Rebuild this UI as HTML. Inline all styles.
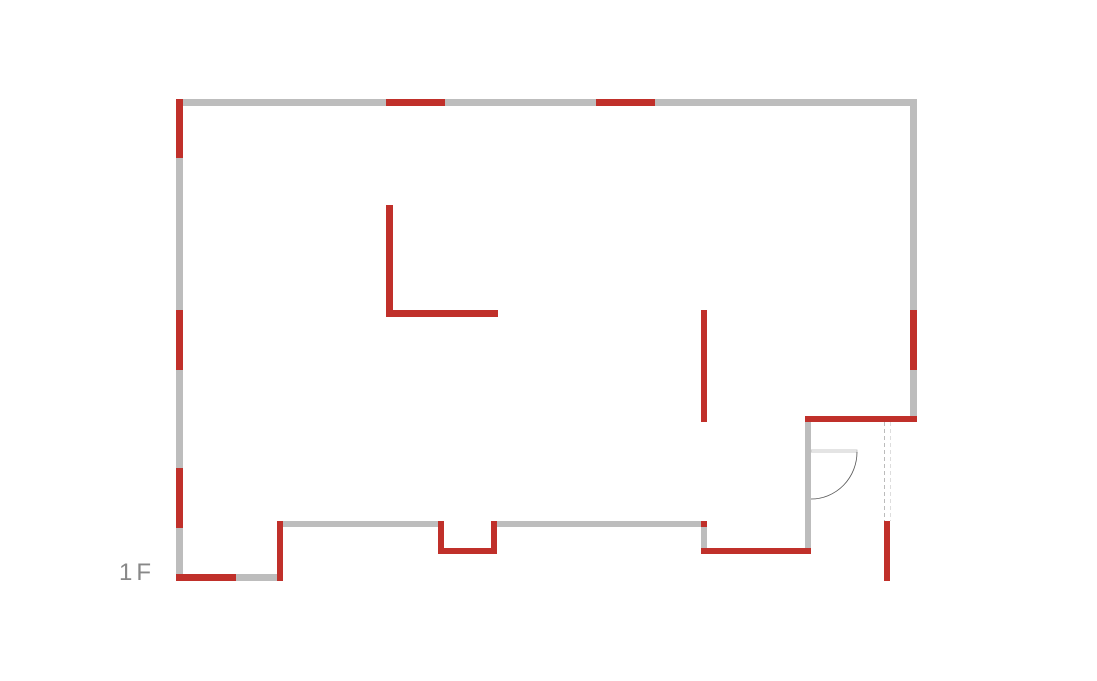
<!DOCTYPE html>
<html><head><meta charset="utf-8"><style>
html,body{margin:0;padding:0;background:#fff;}
svg{display:block;}
</style></head><body>
<svg width="1097" height="681" viewBox="0 0 1097 681" xmlns="http://www.w3.org/2000/svg">
<g fill="#bdbdbd">
<rect x="176" y="99" width="741" height="7"/>
<rect x="176" y="99" width="7" height="482"/>
<rect x="176" y="574" width="107" height="7"/>
<rect x="277" y="521" width="167" height="6"/>
<rect x="491" y="521" width="216" height="6"/>
<rect x="701" y="521" width="6" height="33"/>
<rect x="805" y="416" width="6" height="138"/>
<rect x="910" y="99" width="7" height="323"/>
</g>
<g fill="#c0302a">
<rect x="386" y="99" width="59" height="7"/>
<rect x="596" y="99" width="59" height="7"/>
<rect x="176" y="99" width="7" height="59"/>
<rect x="176" y="310" width="7" height="60"/>
<rect x="176" y="468" width="7" height="60"/>
<rect x="176" y="574" width="60" height="7"/>
<rect x="277" y="521" width="6" height="60"/>
<rect x="438" y="521" width="6" height="33"/>
<rect x="491" y="521" width="6" height="33"/>
<rect x="438" y="548" width="59" height="6"/>
<rect x="701" y="521" width="6" height="6"/>
<rect x="701" y="548" width="110" height="6"/>
<rect x="805" y="416" width="112" height="6"/>
<rect x="910" y="310" width="7" height="60"/>
<rect x="884" y="521" width="6" height="60"/>
<rect x="386" y="205" width="7" height="112"/>
<rect x="386" y="310" width="112" height="7"/>
<rect x="701" y="310" width="6" height="112"/>
</g>
<line x1="884.5" y1="422" x2="884.5" y2="521" stroke="#bbb" stroke-width="1" stroke-dasharray="4,3"/>
<line x1="890.5" y1="422" x2="890.5" y2="521" stroke="#ddd" stroke-width="1" stroke-dasharray="4,3"/>
<rect x="811" y="450" width="46" height="2" fill="none" stroke="#bbb" stroke-width="0.8"/>
<path d="M857 452 A46 47 0 0 1 811 499" fill="none" stroke="#555" stroke-width="0.8"/>
<text x="119" y="580" font-family="Liberation Sans, sans-serif" font-size="24" font-weight="300" fill="#888" letter-spacing="4">1F</text>
</svg>
</body></html>
